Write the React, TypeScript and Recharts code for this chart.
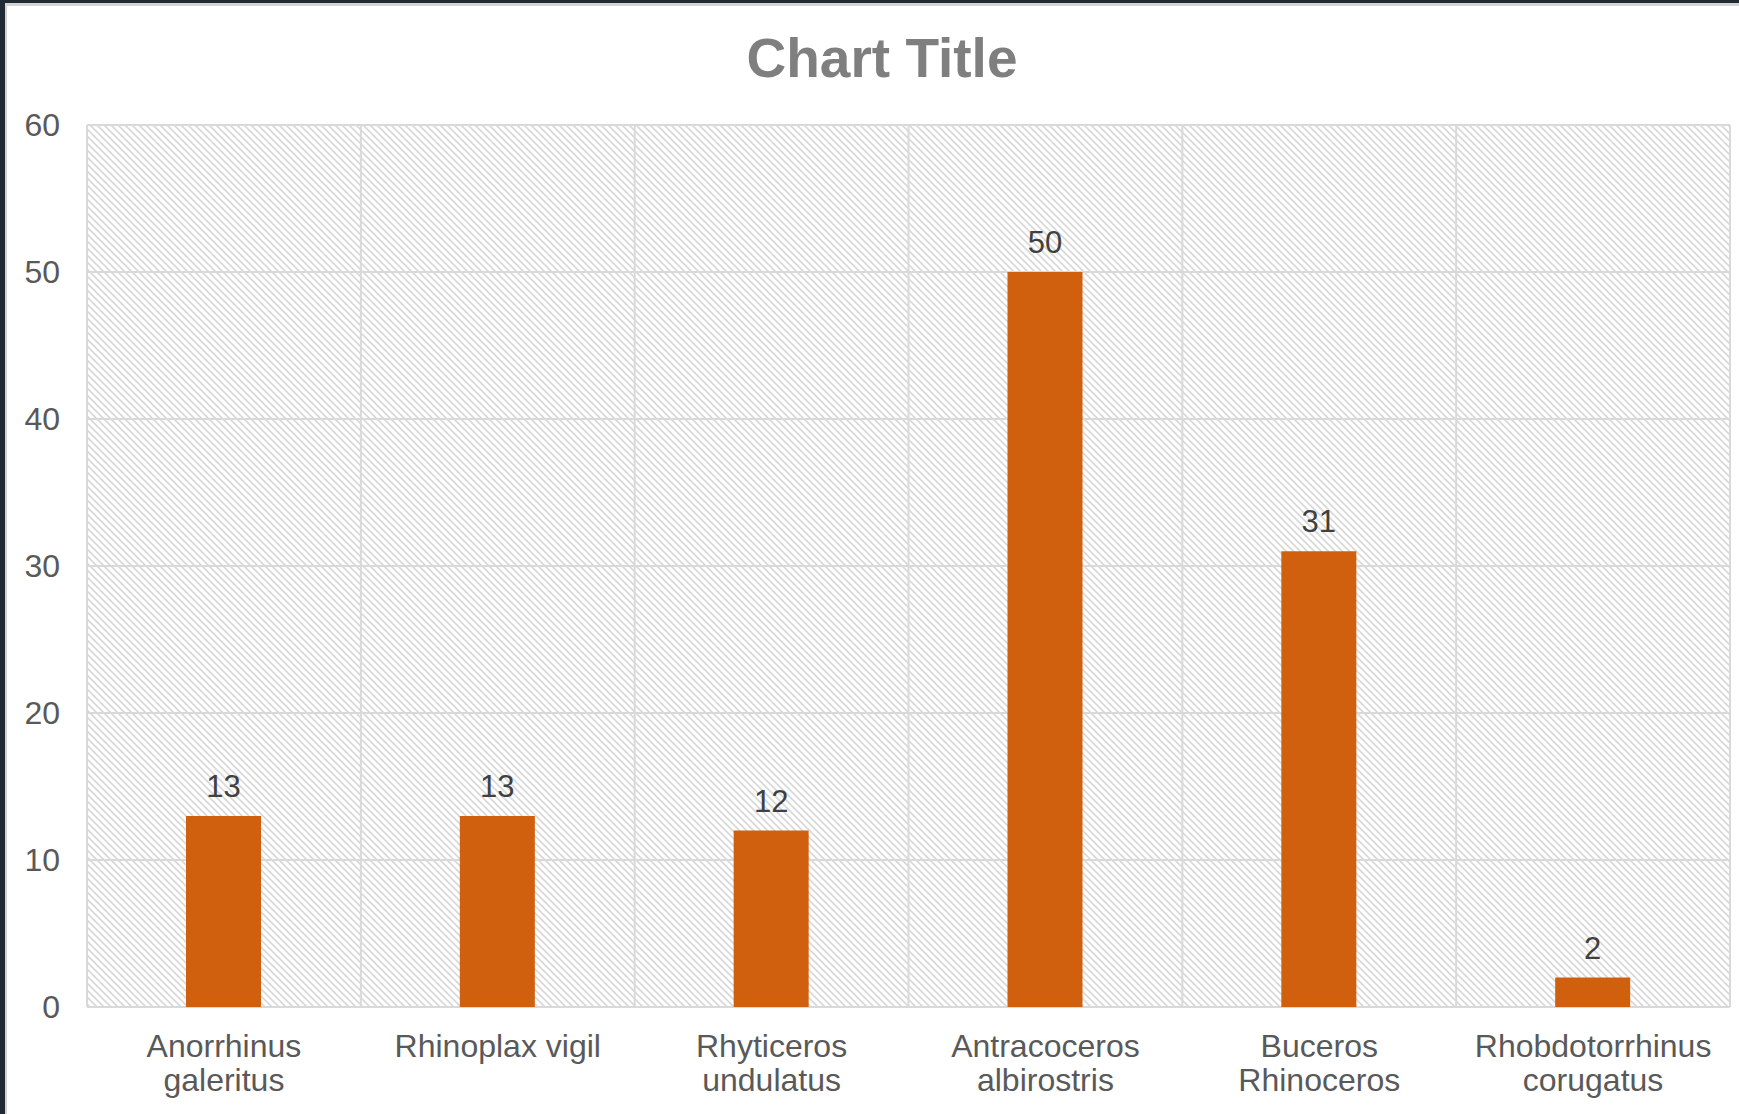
import React from "react";
import {
  Bar,
  BarChart,
  CartesianGrid,
  LabelList,
  XAxis,
  YAxis,
} from "recharts";

const CATEGORIES = [
  "Anorrhinus\ngaleritus",
  "Rhinoplax vigil",
  "Rhyticeros\nundulatus",
  "Antracoceros\nalbirostris",
  "Buceros\nRhinoceros",
  "Rhobdotorrhinus\ncorugatus",
];
const COUNTS = [13, 13, 12, 50, 31, 2];
const Y_TICKS = [0, 10, 20, 30, 40, 50, 60];

const W = 1739;
const H = 1114;
const MARGIN = { top: 125, right: 9, bottom: 0, left: 0 };
const Y_AXIS_W = 87;
const X_AXIS_H = 107;
const FONT = '"Liberation Sans", Arial, sans-serif';
const GRID = "#d9d9d9";
const BAR = "#d1600e";

const data = CATEGORIES.map((name, i) => ({ name, value: COUNTS[i] }));

function CategoryTick({ x, y, payload }: any) {
  const lines = String(payload.value).split("\n");
  return (
    <text
      x={x}
      y={y}
      textAnchor="middle"
      fill="#595959"
      fontSize={32}
      fontFamily={FONT}
    >
      {lines.map((line, i) => (
        <tspan key={i} x={x} dy={i === 0 ? 50 : 34}>
          {line}
        </tspan>
      ))}
    </text>
  );
}

// vertical grid lines sit on the category boundaries, not the band centres
function bandEdges(props: any) {
  const left = props?.offset?.left ?? Y_AXIS_W;
  const width = props?.offset?.width ?? W - Y_AXIS_W - MARGIN.right;
  const step = width / CATEGORIES.length;
  return Array.from({ length: CATEGORIES.length + 1 }, (_, i) => left + i * step);
}

export default function App() {
  return (
    <div
      style={{
        position: "absolute",
        top: 0,
        left: 0,
        width: W,
        height: H,
        background: "#fff",
        overflow: "hidden",
      }}
    >
      <BarChart width={W} height={H} data={data} margin={MARGIN}>
        <defs>
          <pattern id="hatch" width={7} height={7} patternUnits="userSpaceOnUse">
            <rect width={7} height={7} fill="#ffffff" />
            <path
              d="M0,0 L7,7 M-1,6 L1,8 M6,-1 L8,1"
              stroke="#d9d9d9"
              strokeWidth={1.7}
            />
          </pattern>
        </defs>
        <CartesianGrid
          stroke={GRID}
          strokeWidth={2}
          fill="url(#hatch)"
          fillOpacity={1}
          verticalCoordinatesGenerator={bandEdges}
        />
        <XAxis
          dataKey="name"
          height={X_AXIS_H}
          axisLine={false}
          tickLine={false}
          tickSize={0}
          tickMargin={0}
          interval={0}
          tick={<CategoryTick />}
        />
        <YAxis
          width={Y_AXIS_W}
          domain={[0, 60]}
          ticks={Y_TICKS}
          axisLine={false}
          tickLine={false}
          tickSize={0}
          tickMargin={27}
          tick={{ fill: "#595959", fontSize: 32, fontFamily: FONT }}
        />
        <Bar dataKey="value" fill={BAR} barSize={75} isAnimationActive={false}>
          <LabelList
            dataKey="value"
            position="top"
            offset={19}
            fill="#404040"
            fontSize={31}
            fontFamily={FONT}
          />
        </Bar>
      </BarChart>
      <div
        style={{
          position: "absolute",
          left: 882,
          top: 31,
          transform: "translateX(-50%)",
          fontFamily: FONT,
          fontWeight: 700,
          fontSize: 55,
          lineHeight: 1,
          color: "#7f7f7f",
          whiteSpace: "nowrap",
        }}
      >
        Chart Title
      </div>
      {/* window frame along the top and left edges */}
      <div style={{ position: "absolute", left: 0, top: 0, width: W, height: 3, background: "#222b34" }} />
      <div style={{ position: "absolute", left: 0, top: 3, width: W, height: 3, background: "#d4d4d4" }} />
      <div style={{ position: "absolute", left: 0, top: 0, width: 5, height: H, background: "#222b34" }} />
      <div style={{ position: "absolute", left: 5, top: 3, width: 2, height: H, background: "#d4d4d4" }} />
    </div>
  );
}
